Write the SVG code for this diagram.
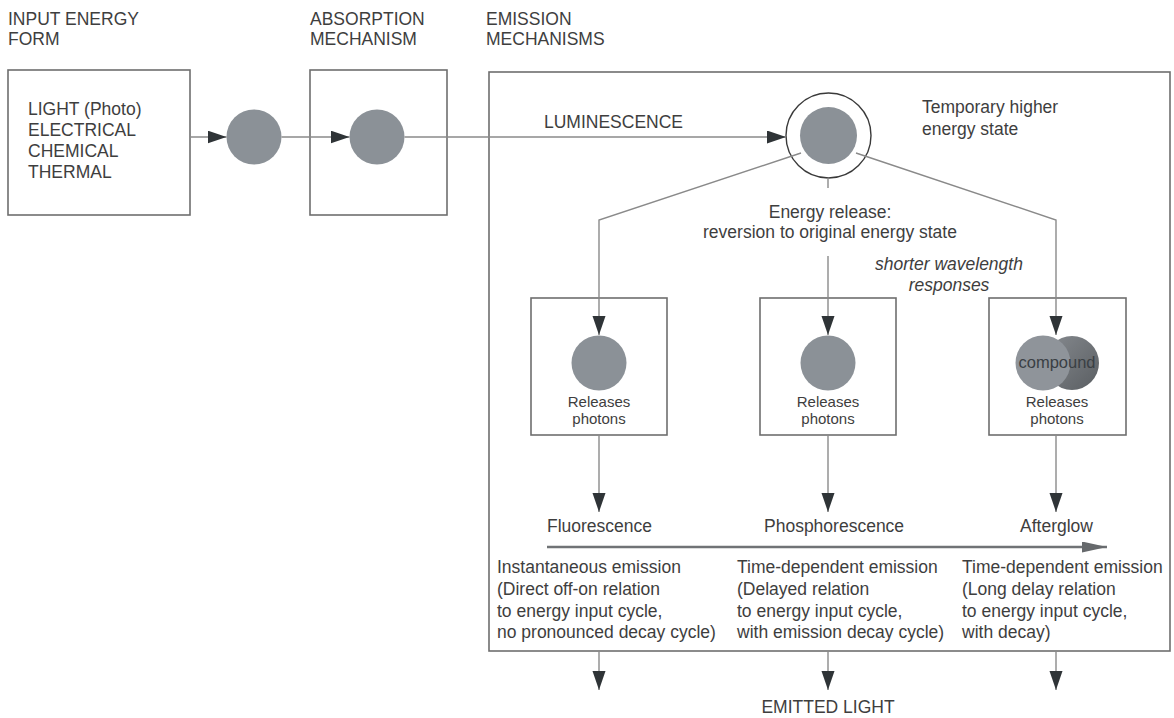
<svg xmlns="http://www.w3.org/2000/svg" width="1174" height="718" viewBox="0 0 1174 718">
<style>
.t{font-family:"Liberation Sans",Arial,Helvetica,sans-serif;font-size:17.5px;fill:#3e3e3e}
.s{font-size:15px}
.c{text-anchor:middle}
.i{font-style:italic}
.box{fill:none;stroke:#6e6e6e;stroke-width:1.6}
.disc{fill:#8b9197}
.ln{fill:none;stroke:#8a8a8a;stroke-width:1.4}
</style>
<defs>
<marker id="ah" markerUnits="userSpaceOnUse" markerWidth="20" markerHeight="14" refX="19" refY="6.5" orient="auto"><path d="M0,0 L19,6.5 L0,13 z" fill="#2f3437"/></marker>
<marker id="ab" markerUnits="userSpaceOnUse" markerWidth="26" markerHeight="12" refX="25" refY="5.5" orient="auto"><path d="M0,0 L25,5.5 L0,11 z" fill="#66696c"/></marker>
<linearGradient id="dk" x1="0" y1="0" x2="1" y2="1"><stop offset="0" stop-color="#868a8f"/><stop offset="1" stop-color="#5a5e62"/></linearGradient>
</defs>

<g id="headers">
<text class="t" x="8" y="25">INPUT ENERGY</text><text class="t" x="8" y="45">FORM</text>
<text class="t" x="310" y="25">ABSORPTION</text><text class="t" x="310" y="45">MECHANISM</text>
<text class="t" x="486" y="25">EMISSION</text><text class="t" x="486" y="45">MECHANISMS</text>
</g>

<g id="input-box">
<rect class="box" x="8" y="70" width="182" height="145"/>
<text class="t" x="28" y="115">LIGHT (Photo)</text>
<text class="t" x="28" y="136">ELECTRICAL</text>
<text class="t" x="28" y="157">CHEMICAL</text>
<text class="t" x="28" y="177.5">THERMAL</text>
</g>

<g id="input-disc"><circle class="disc" cx="254" cy="137" r="27.5"/></g>

<g id="absorption-box">
<rect class="box" x="310" y="70" width="137" height="145"/>
<circle class="disc" cx="377" cy="137" r="27.5"/>
</g>

<g id="emission-box">
<rect class="box" x="489" y="72" width="681" height="579" stroke="#5e5e5e"/>
<text class="t" x="544" y="128" textLength="139" lengthAdjust="spacingAndGlyphs">LUMINESCENCE</text>
<text class="t" x="922" y="113">Temporary higher</text>
<text class="t" x="922" y="135">energy state</text>
<text class="t c" x="830" y="218">Energy release:</text>
<text class="t c" x="830" y="238">reversion to original energy state</text>
<text class="t c i" x="949" y="270">shorter wavelength</text>
<text class="t c i" x="949" y="291">responses</text>
<text class="t" x="547" y="532">Fluorescence</text>
<text class="t" x="764" y="532">Phosphorescence</text>
<text class="t" x="1020" y="532">Afterglow</text>
</g>

<g id="state-circle">
<circle cx="828.5" cy="135.5" r="42.5" fill="#fff" stroke="#3a3a3a" stroke-width="1.4"/>
<circle class="disc" cx="828.5" cy="135.5" r="28.5"/>
</g>

<g id="fluorescence-box">
<rect class="box" x="531" y="298" width="136" height="137"/>
<circle class="disc" cx="599" cy="363" r="27.5"/>
<text class="t s c" x="599" y="407">Releases</text>
<text class="t s c" x="599" y="424">photons</text>
</g>

<g id="phosphorescence-box">
<rect class="box" x="760" y="298" width="136" height="137"/>
<circle class="disc" cx="828" cy="363" r="27.5"/>
<text class="t s c" x="828" y="407">Releases</text>
<text class="t s c" x="828" y="424">photons</text>
</g>

<g id="afterglow-box">
<rect class="box" x="989" y="298" width="137" height="137"/>
<circle cx="1072" cy="363" r="27" fill="url(#dk)"/>
<circle cx="1043" cy="363" r="27.5" fill="#8f949a"/>
<text class="t c" x="1057" y="368" style="font-size:16.5px;fill:#3a3f44">compound</text>
<text class="t s c" x="1057" y="407">Releases</text>
<text class="t s c" x="1057" y="424">photons</text>
</g>

<g id="descriptions">
<text class="t" x="497" y="573">Instantaneous emission</text>
<text class="t" x="497" y="595">(Direct off-on relation</text>
<text class="t" x="497" y="616.5">to energy input cycle,</text>
<text class="t" x="497" y="638">no pronounced decay cycle)</text>
<text class="t" x="737" y="573">Time-dependent emission</text>
<text class="t" x="737" y="595">(Delayed relation</text>
<text class="t" x="737" y="616.5">to energy input cycle,</text>
<text class="t" x="737" y="638">with emission decay cycle)</text>
<text class="t" x="962" y="573">Time-dependent emission</text>
<text class="t" x="962" y="595">(Long delay relation</text>
<text class="t" x="962" y="616.5">to energy input cycle,</text>
<text class="t" x="962" y="638">with decay)</text>
</g>

<g id="emitted-light"><text class="t c" x="828" y="713">EMITTED LIGHT</text></g>

<g id="connectors">
<path class="ln" d="M190,137 H226.5" marker-end="url(#ah)"/>
<path class="ln" d="M281.5,137 H349.5" marker-end="url(#ah)"/>
<path class="ln" d="M404.5,137 H786" marker-end="url(#ah)"/>
<path class="ln" d="M801,153 L599,220 V335" marker-end="url(#ah)"/>
<path class="ln" d="M828,178 V188"/>
<path class="ln" d="M828,256 V335" marker-end="url(#ah)"/>
<path class="ln" d="M856,153 L1056,220 V335" marker-end="url(#ah)"/>
<path class="ln" d="M599,435 V512" marker-end="url(#ah)"/>
<path class="ln" d="M828,435 V512" marker-end="url(#ah)"/>
<path class="ln" d="M1056,435 V512" marker-end="url(#ah)"/>
<path d="M547,547 H1107" fill="none" stroke="#707376" stroke-width="2.6" marker-end="url(#ab)"/>
<path class="ln" d="M599,651 V690" marker-end="url(#ah)"/>
<path class="ln" d="M828,651 V690" marker-end="url(#ah)"/>
<path class="ln" d="M1056,651 V690" marker-end="url(#ah)"/>
</g>
</svg>
